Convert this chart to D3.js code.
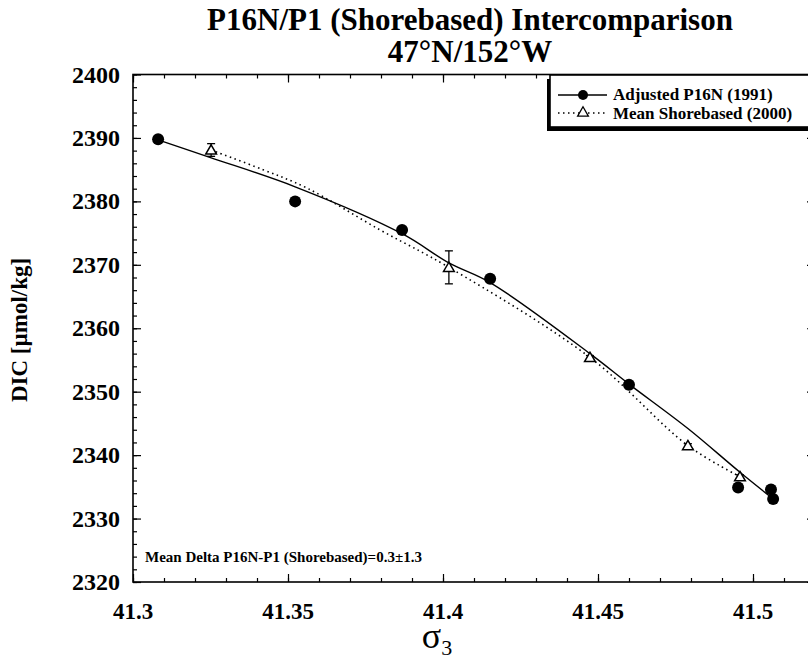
<!DOCTYPE html>
<html>
<head>
<meta charset="utf-8">
<script src="https://cdn.jsdelivr.net/npm/d3@7"></script>
<style>
  body { margin: 0; background: #fff; }
  text { font-family: "Liberation Serif", "Times New Roman", serif; }
</style>
</head>
<body>
<div id="chart"></div>
<script>
// adjusted P16N (1991) bottles
const sigmaP16N = [41.3081, 41.3523, 41.3868, 41.4152, 41.46, 41.4952, 41.5058, 41.5065];
const dicP16N = [2389.8, 2380.0, 2375.5, 2367.8, 2351.1, 2334.9, 2334.6, 2333.1];
// mean shorebased (2000)
const sigmaShore = [41.3252, 41.4019, 41.4474, 41.479, 41.4958];
const dicShore = [2388.1, 2369.6, 2355.4, 2341.5, 2336.6];
const errShore = [1.0, 2.6, 0.3, 0.3, 0.3];
// fitted curve through P16N
const fitSigma = [41.3081, 41.325, 41.3523, 41.3868, 41.4019, 41.4152, 41.4474, 41.46, 41.479, 41.4958, 41.5065];
const fitDic = [2389.7, 2386.9, 2382.3, 2374.9, 2370.3, 2367.2, 2356.0, 2351.2, 2344.2, 2337.3, 2333.1];
// dotted curve through shorebased means
const shoreCurveSigma = [41.3252, 41.3419, 41.3561, 41.3797, 41.4019, 41.4474, 41.479, 41.4958];
const shoreCurveDic = [2388.1, 2385.0, 2382.1, 2375.5, 2369.6, 2355.4, 2341.5, 2336.6];

const xMajor = [41.3, 41.35, 41.4, 41.45, 41.5];
const yMajor = [2320, 2330, 2340, 2350, 2360, 2370, 2380, 2390, 2400];

let svg = d3.select("#chart").append("svg").attr("width", 808).attr("height", 661);

let x = d3.scaleLinear().domain([41.3, 41.52]).range([133, 815]);
let y = d3.scaleLinear().domain([2320, 2400]).range([582, 74.5]);

// title
svg.append("text").attr("x", 470).attr("y", 30).attr("text-anchor", "middle")
  .attr("font-size", 31).attr("font-weight", "bold").text("P16N/P1 (Shorebased) Intercomparison");
svg.append("text").attr("x", 470).attr("y", 62).attr("text-anchor", "middle")
  .attr("font-size", 31).attr("font-weight", "bold").text("47°N/152°W");

// minor ticks
let xMinor = d3.range(41.3, 41.5201, 0.01);
let yMinor = d3.range(2320, 2400.1, 2);
let ax = svg.append("g");
ax.append("g").attr("transform", "translate(0,582)")
  .call(d3.axisBottom(x).tickValues(xMinor).tickSize(-4).tickFormat(""));
ax.append("g").attr("transform", "translate(0,74.5)")
  .call(d3.axisTop(x).tickValues(xMinor).tickSize(-4).tickFormat(""));
ax.append("g").attr("transform", "translate(133,0)")
  .call(d3.axisLeft(y).tickValues(yMinor).tickSize(-4).tickFormat(""));
ax.append("g").attr("transform", "translate(815,0)")
  .call(d3.axisRight(y).tickValues(yMinor).tickSize(-4).tickFormat(""));
// major ticks
ax.append("g").attr("transform", "translate(0,582)")
  .call(d3.axisBottom(x).tickValues(xMajor).tickSize(-8).tickFormat(""));
ax.append("g").attr("transform", "translate(0,74.5)")
  .call(d3.axisTop(x).tickValues(xMajor).tickSize(-8).tickFormat(""));
ax.append("g").attr("transform", "translate(133,0)")
  .call(d3.axisLeft(y).tickValues(yMajor).tickSize(-8).tickFormat(""));
ax.append("g").attr("transform", "translate(815,0)")
  .call(d3.axisRight(y).tickValues(yMajor).tickSize(-8).tickFormat(""));
ax.selectAll(".domain").remove();
ax.selectAll("line").attr("stroke", "#000").attr("stroke-width", 1.2);

// frame
svg.append("rect").attr("x", 133).attr("y", 74.5).attr("width", 682).attr("height", 507.5)
  .attr("fill", "none").attr("stroke", "#000").attr("stroke-width", 1.6);

// tick labels
svg.selectAll(".xl").data(xMajor).enter().append("text")
  .attr("x", d => x(d)).attr("y", 619).attr("text-anchor", "middle")
  .attr("font-size", 23).attr("font-weight", "bold").text(d => d);
svg.selectAll(".yl").data(yMajor).enter().append("text")
  .attr("x", 120).attr("y", d => y(d) + 8).attr("text-anchor", "end")
  .attr("font-size", 24).attr("font-weight", "bold").text(d => d);

// axis titles
svg.append("text").attr("transform", "translate(27,330) rotate(-90)").attr("text-anchor", "middle")
  .attr("font-size", 23).attr("font-weight", "bold").text("DIC [µmol/kg]");
let xt = svg.append("text").attr("x", 437).attr("y", 648).attr("text-anchor", "middle").attr("font-size", 36);
xt.append("tspan").text("σ");
xt.append("tspan").attr("font-size", 22).attr("dy", 7).text("3");

// curves
let fitPts = fitSigma.map((s, i) => [s, fitDic[i]]);
let shorePts = shoreCurveSigma.map((s, i) => [s, shoreCurveDic[i]]);
let line = d3.line().x(d => x(d[0])).y(d => y(d[1])).curve(d3.curveCatmullRom);
svg.append("path").attr("d", line(fitPts)).attr("fill", "none")
  .attr("stroke", "#000").attr("stroke-width", 1.4);
svg.append("path").attr("d", line(shorePts)).attr("fill", "none")
  .attr("stroke", "#000").attr("stroke-width", 1.6).attr("stroke-dasharray", "1.5,3.5");

// error bars
sigmaShore.forEach(function (s, i) {
  let cx = x(s), y0 = y(dicShore[i] - errShore[i]), y1 = y(dicShore[i] + errShore[i]);
  svg.append("line").attr("x1", cx).attr("x2", cx).attr("y1", y0).attr("y2", y1)
    .attr("stroke", "#000").attr("stroke-width", 1.3);
  [y0, y1].forEach(yy => svg.append("line").attr("x1", cx - 4).attr("x2", cx + 4)
    .attr("y1", yy).attr("y2", yy).attr("stroke", "#000").attr("stroke-width", 1.3));
});

// markers
let tri = d3.symbol().type(d3.symbolTriangle).size(50);
sigmaShore.forEach(function (s, i) {
  svg.append("path").attr("d", tri()).attr("transform", "translate(" + x(s) + "," + (y(dicShore[i]) + 1) + ")")
    .attr("fill", "#fff").attr("stroke", "#000").attr("stroke-width", 1.5);
});
sigmaP16N.forEach(function (s, i) {
  svg.append("circle").attr("cx", x(s)).attr("cy", y(dicP16N[i])).attr("r", 6).attr("fill", "#000");
});

// annotation
svg.append("text").attr("x", 145).attr("y", 562).attr("font-size", 15).attr("font-weight", "bold")
  .text("Mean Delta P16N-P1 (Shorebased)=0.3±1.3");

// legend
let lg = svg.append("g");
lg.append("rect").attr("x", 547).attr("y", 79).attr("width", 270).attr("height", 52).attr("fill", "#000");
lg.append("rect").attr("x", 550).attr("y", 75).attr("width", 270).attr("height", 52)
  .attr("fill", "#fff").attr("stroke", "#000").attr("stroke-width", 1.6);
lg.append("line").attr("x1", 558).attr("x2", 607).attr("y1", 95).attr("y2", 95)
  .attr("stroke", "#000").attr("stroke-width", 1.4);
lg.append("circle").attr("cx", 583).attr("cy", 95).attr("r", 5).attr("fill", "#000");
lg.append("line").attr("x1", 558).attr("x2", 607).attr("y1", 113).attr("y2", 113)
  .attr("stroke", "#000").attr("stroke-width", 1.6).attr("stroke-dasharray", "1.5,3.5");
lg.append("path").attr("d", tri()).attr("transform", "translate(583,113)")
  .attr("fill", "#fff").attr("stroke", "#000").attr("stroke-width", 1.3);
lg.append("text").attr("x", 613).attr("y", 100).attr("font-size", 17).attr("font-weight", "bold")
  .text("Adjusted P16N (1991)");
lg.append("text").attr("x", 613).attr("y", 119).attr("font-size", 17).attr("font-weight", "bold")
  .text("Mean Shorebased (2000)");
</script>
</body>
</html>
